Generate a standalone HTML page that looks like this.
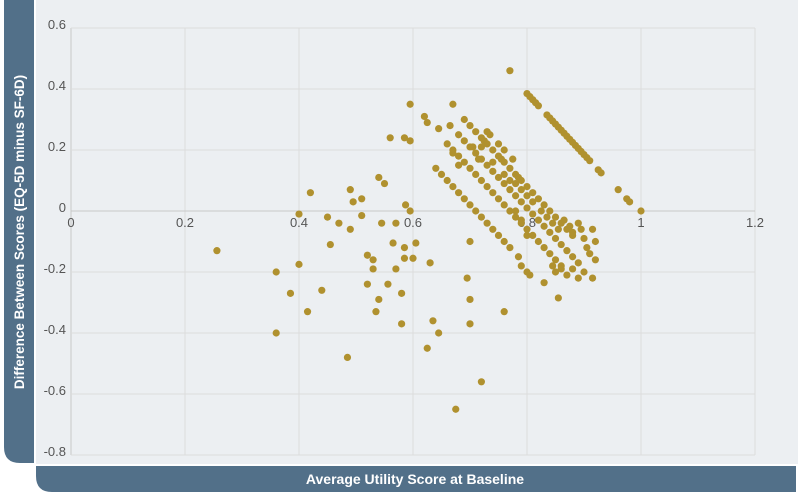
<!DOCTYPE html>
<html><head><meta charset="utf-8"><style>
body{margin:0;background:#fff;width:800px;height:496px;overflow:hidden;font-family:"Liberation Sans",sans-serif}
</style></head><body>
<svg width="800" height="496">
<rect x="36" y="0" width="762" height="464" fill="#eceff2"/>
<path d="M4,0 H34 V463 H20 Q4,463 4,447 Z" fill="#527089"/>
<path d="M36,466 H796 V492 H52 Q36,492 36,476 Z" fill="#527089"/>
<text x="24" y="232" transform="rotate(-90 24 232)" text-anchor="middle" fill="#fff" font-weight="bold" font-size="13.5">Difference Between Scores (EQ-5D minus SF-6D)</text>
<text x="415" y="484" text-anchor="middle" fill="#fff" font-weight="bold" font-size="14">Average Utility Score at Baseline</text>
<g id="grid"></g><g id="ticks"></g><g id="pts"></g>
</svg>
<script>
const xTicks=[0,0.2,0.4,0.6,0.8,1,1.2];
const xTickLabels=["0","0.2","0.4","0.6","0.8","1","1.2"];
const yTicks=[0.6,0.4,0.2,0,-0.2,-0.4,-0.6,-0.8];
const yTickLabels=["0.6","0.4","0.2","0","-0.2","-0.4","-0.6","-0.8"];
const xVals=[0.256,0.36,0.36,0.385,0.40,0.40,0.42,0.415,0.44,0.45,0.455,0.47,0.49,0.49,0.495,0.51,0.51,0.485,0.52,0.52,0.53,0.53,0.535,0.54,0.54,0.55,0.545,0.556,0.56,0.565,0.57,0.57,0.58,0.58,0.585,0.585,0.587,0.585,0.595,0.595,0.595,0.6,0.605,0.62,0.625,0.63,0.635,0.625,0.645,0.645,0.665,0.67,0.675,0.70,0.70,0.70,0.695,0.72,0.77,0.76,
0.80,0.805,0.81,0.815,0.82,0.835,0.84,0.845,0.85,0.855,0.86,0.865,0.87,0.875,0.88,0.885,0.89,0.895,0.90,0.905,0.91,0.925,0.93,0.96,0.975,0.98,1.0,
0.69,0.70,0.71,0.72,0.725,0.73,0.74,0.75,0.755,0.76,0.77,0.78,0.785,0.79,0.80,0.81,0.82,0.83,0.84,0.85,0.86,0.87,0.88,
0.68,0.69,0.70,0.71,0.72,0.73,0.74,0.75,0.76,0.77,0.78,0.79,0.80,0.81,0.82,0.83,0.84,0.85,0.86,0.87,0.88,0.89,
0.67,0.68,0.69,0.70,0.71,0.72,0.73,0.74,0.75,0.76,0.77,0.78,0.79,0.80,0.81,0.82,0.83,0.84,0.85,0.86,
0.64,0.65,0.66,0.67,0.68,0.69,0.70,0.71,0.72,0.73,0.74,0.75,0.76,0.77,0.785,
0.79,0.80,0.805,0.83,0.855,
0.845,0.855,0.865,0.875,0.88,0.89,0.895,0.90,0.905,0.91,0.915,0.92,0.915,0.92,0.86,0.87,0.88,0.89,0.90,0.845,0.85,
0.72,0.73,0.735,0.75,0.76,0.775,0.77,0.78,0.79,0.80,0.81,0.825,0.835,0.74,0.76,0.78,0.79,0.80,0.66,0.67,0.68,0.705,0.715];
const yVals=[-0.13,-0.20,-0.40,-0.27,-0.175,-0.01,0.06,-0.33,-0.26,-0.02,-0.11,-0.04,-0.06,0.07,0.03,0.04,-0.015,-0.48,-0.24,-0.145,-0.16,-0.19,-0.33,0.11,-0.29,0.09,-0.04,-0.24,0.24,-0.105,-0.19,-0.04,-0.27,-0.37,0.24,-0.12,0.02,-0.155,0.35,0.23,0.0,-0.155,-0.105,0.31,0.29,-0.17,-0.36,-0.45,0.27,-0.40,0.28,0.35,-0.65,-0.10,-0.29,-0.37,-0.22,-0.56,0.46,-0.33,
0.385,0.375,0.365,0.355,0.345,0.315,0.305,0.295,0.285,0.275,0.265,0.255,0.245,0.235,0.225,0.215,0.205,0.195,0.185,0.175,0.165,0.135,0.125,0.07,0.04,0.03,0.0,
0.30,0.28,0.26,0.24,0.23,0.22,0.20,0.18,0.17,0.16,0.14,0.12,0.11,0.10,0.08,0.06,0.04,0.02,0.0,-0.02,-0.04,-0.06,-0.08,
0.25,0.23,0.21,0.19,0.17,0.15,0.13,0.11,0.09,0.07,0.05,0.03,0.01,-0.01,-0.03,-0.05,-0.07,-0.09,-0.11,-0.13,-0.15,-0.17,
0.20,0.18,0.16,0.14,0.12,0.10,0.08,0.06,0.04,0.02,0.0,-0.02,-0.04,-0.06,-0.08,-0.10,-0.12,-0.14,-0.16,-0.18,
0.14,0.12,0.10,0.08,0.06,0.04,0.02,0.0,-0.02,-0.04,-0.06,-0.08,-0.10,-0.12,-0.15,
-0.18,-0.20,-0.21,-0.235,-0.285,
-0.04,-0.06,-0.03,-0.05,-0.07,-0.04,-0.06,-0.09,-0.12,-0.14,-0.06,-0.10,-0.22,-0.16,-0.19,-0.21,-0.19,-0.22,-0.20,-0.18,-0.20,
0.21,0.26,0.25,0.22,0.20,0.17,0.10,0.09,0.07,0.05,0.03,0.0,-0.02,0.16,0.12,0.0,-0.03,-0.08,0.22,0.19,0.15,0.21,0.17];
const NS="http://www.w3.org/2000/svg";
const X0=71,XS=570,Y0=211,YS=305;
function sx(v){return X0+v*XS;}
function sy(v){return Y0-v*YS;}
const grid=document.getElementById('grid'),ticks=document.getElementById('ticks'),pts=document.getElementById('pts');
xTicks.forEach((t,i)=>{
  const l=document.createElementNS(NS,'line');
  l.setAttribute('x1',sx(t));l.setAttribute('x2',sx(t));l.setAttribute('y1',sy(0.6));l.setAttribute('y2',sy(-0.8));
  l.setAttribute('stroke',i===0?'#c8c8c8':'#dcdcdc');l.setAttribute('stroke-width','1');
  
  
  grid.appendChild(l);
  const tx=document.createElementNS(NS,'text');
  tx.setAttribute('x',sx(t));tx.setAttribute('y',Y0+16);tx.setAttribute('text-anchor','middle');
  tx.setAttribute('font-size','13');tx.setAttribute('fill','#555');
  tx.textContent=xTickLabels[i];
  
  
  ticks.appendChild(tx);
});
yTicks.forEach((t,i)=>{
  const l=document.createElementNS(NS,'line');
  l.setAttribute('x1',sx(0));l.setAttribute('x2',sx(1.2));l.setAttribute('y1',sy(t));l.setAttribute('y2',sy(t));
  l.setAttribute('stroke',t===0?'#c8c8c8':'#dcdcdc');l.setAttribute('stroke-width','1');
  
  
  grid.appendChild(l);
  const tx=document.createElementNS(NS,'text');
  tx.setAttribute('x',sx(0)-5);tx.setAttribute('y',sy(t)+1);tx.setAttribute('text-anchor','end');
  tx.setAttribute('font-size','13');tx.setAttribute('fill','#555');
  tx.textContent=yTickLabels[i];
  
  
  ticks.appendChild(tx);
});
xVals.forEach((v,i)=>{
  const c=document.createElementNS(NS,'circle');
  c.setAttribute('cx',sx(v));c.setAttribute('cy',sy(yVals[i]));c.setAttribute('r','3.6');c.setAttribute('fill','#b0912f');
  
  
  pts.appendChild(c);
});
</script>
</body></html>
